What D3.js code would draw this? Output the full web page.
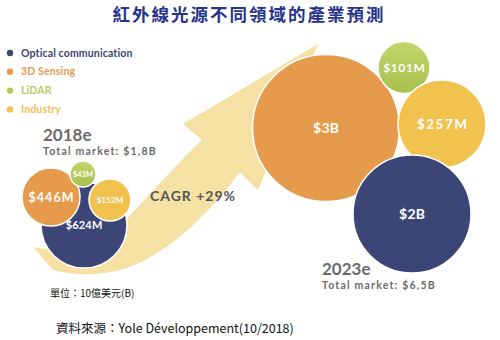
<!DOCTYPE html>
<html><head><meta charset="utf-8">
<script src="https://cdn.jsdelivr.net/npm/d3@7"></script>
<style>
html,body{margin:0;padding:0;background:#fff;}
svg{display:block;}
</style></head>
<body>
<svg id="chart" width="500" height="340"></svg>
<script>
// ---- data ----
const title = "紅外線光源不同領域的產業預測";
const categories = ["Optical communication", "3D Sensing", "LiDAR", "Industry"];
const colors = ["#3b4677", "#e69a4b", "#b4c95a", "#f2c24f"];
const years = ["2018e", "2023e"];
const totals = ["Total market: $1,8B", "Total market: $6,5B"];
const values2018 = [624, 446, 43, 152];      // $M
const values2023 = [2000, 3000, 101, 257];   // $M
const cagr = "CAGR +29%";
const unitNote = "單位：10億美元(B)";
const source = "資料來源：Yole Développement(10/2018)";

// ---- layout (placement of bubbles, not data) ----
const layout2018 = [
  {cx: 84, cy: 225, r: 43, fs: 11, ls: 0.2},
  {cx: 51, cy: 197, r: 29, fs: 12.5, ls: 1.1},
  {cx: 83, cy: 174, r: 13, fs: 7.5, ls: 0},
  {cx: 110, cy: 200, r: 21, fs: 8.2, ls: 0},
  ];
const layout2023 = [
  {cx: 412, cy: 214, r: 59, fs: 14, ls: 0.3},
  {cx: 326, cy: 128, r: 73.5, fs: 14, ls: 0.3},
  {cx: 404, cy: 67.5, r: 26, fs: 12, ls: 0.6},
  {cx: 442, cy: 124, r: 44, fs: 13.5, ls: 1.5}
];
const order2018 = [0, 1, 2, 3];
const order2023 = [1, 2, 3, 0];

function fmt(v) {
  if (v >= 1000) return "$" + d3.format(".0f")(v / 1000) + "B";
  return "$" + v + "M";
}

const svg = d3.select("#chart");
const FONT = "Lato, 'Open Sans', sans-serif";

// title
svg.append("text").attr("x", 249).attr("y", 20.5).attr("text-anchor", "middle")
  .attr("font-family", "'Noto Sans CJK TC', sans-serif").attr("font-weight", 700)
  .attr("font-size", 17.5).attr("letter-spacing", 2).attr("fill", "#27348b").text(title);

// growth arrow band
svg.append("path")
  .attr("d", "M33,247 C90,258 115,232 137,208 C160,183 185,156 202,140 L183,124 L318,44 L258,190 L240,172 C200,225 150,272 95,274 Q70,275 53,270 Z")
  .attr("fill", "#f6e1a4");

// legend
const leg = svg.append("g");
categories.forEach((c, i) => {
  const y = 53 + i * 18.8;
  leg.append("circle").attr("cx", 10).attr("cy", y).attr("r", 3.2).attr("fill", colors[i]);
  leg.append("text").attr("x", 21).attr("y", y + 3.5).attr("font-family", FONT)
    .attr("font-weight", 700).attr("font-size", 10.5).attr("letter-spacing", 0.15)
    .attr("fill", colors[i]).text(c);
});

// green gradient
const defs = svg.append("defs");
const g = defs.append("linearGradient").attr("id", "gGreen").attr("x1", 0).attr("y1", 0).attr("x2", 0).attr("y2", 1);
g.append("stop").attr("offset", "0%").attr("stop-color", "#c3d56a");
g.append("stop").attr("offset", "100%").attr("stop-color", "#a7c04f");

function bubbles(values, layout, order) {
  const grp = svg.append("g");
  order.forEach(i => {
    const L = layout[i];
    grp.append("circle").attr("cx", L.cx).attr("cy", L.cy).attr("r", L.r)
      .attr("fill", i === 2 ? "url(#gGreen)" : colors[i])
      .attr("stroke", "#fff").attr("stroke-width", 1.5);
  });
  order.forEach(i => {
    const L = layout[i];
    grp.append("text").attr("x", L.cx + L.ls / 2).attr("y", L.cy + L.fs * 0.36)
      .attr("text-anchor", "middle").attr("font-family", FONT).attr("font-weight", 700)
      .attr("font-size", L.fs).attr("letter-spacing", L.ls).attr("fill", "#fff").text(fmt(values[i]));
  });
}
bubbles(values2018, layout2018, order2018);
bubbles(values2023, layout2023, order2023);

// year labels
const gray = "#6b6b6b";
[[43, 141, 155], [322, 275, 289]].forEach((p, i) => {
  svg.append("text").attr("x", p[0]).attr("y", p[1]).attr("font-family", FONT)
    .attr("font-weight", 700).attr("font-size", 17).attr("fill", gray).text(years[i]);
  svg.append("text").attr("x", p[0]).attr("y", p[2]).attr("font-family", FONT)
    .attr("font-weight", 700).attr("font-size", 10.5).attr("letter-spacing", 1.2)
    .attr("fill", gray).text(totals[i]);
});

// CAGR
svg.append("text").attr("x", 150).attr("y", 201).attr("font-family", FONT)
  .attr("font-weight", 700).attr("font-size", 14).attr("letter-spacing", 1)
  .attr("fill", "#555").text(cagr);

// notes
svg.append("text").attr("x", 50).attr("y", 297).attr("font-family", "'Noto Sans CJK TC', sans-serif")
  .attr("font-size", 10).attr("fill", "#111").text(unitNote);
svg.append("text").attr("x", 56).attr("y", 333).attr("font-family", "'Noto Sans CJK TC', 'Liberation Sans', sans-serif")
  .attr("font-size", 12.5).attr("fill", "#111").text(source);
</script>
</body></html>
